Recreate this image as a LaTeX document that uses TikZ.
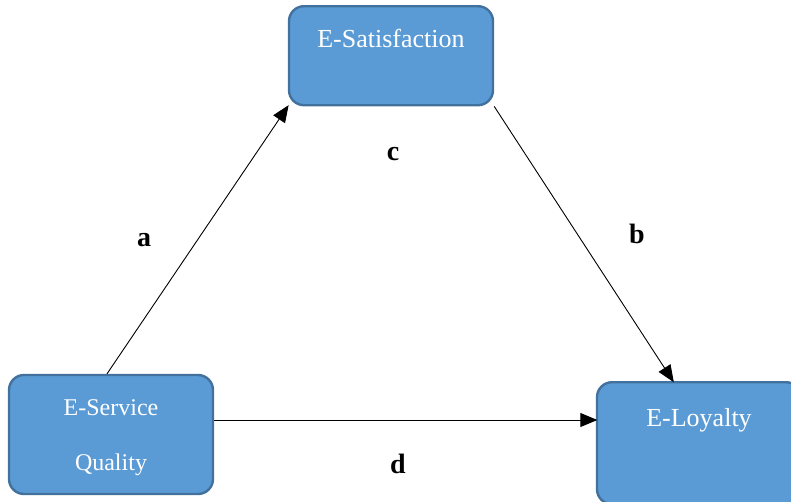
\documentclass[tikz,border=0pt]{standalone}
\usepackage{fontspec}
\setmainfont{Liberation Serif}
\usetikzlibrary{arrows.meta}

\definecolor{boxfill}{HTML}{5B9BD5}
\definecolor{boxline}{HTML}{41719C}

\begin{document}
\begin{tikzpicture}[
    x=1pt, y=-1pt,
    box/.style={draw=boxline, line width=2.4pt, fill=boxfill, rounded corners=15pt,
        text=white, minimum width=204pt, inner xsep=0pt, inner ysep=0pt,
        font=\fontsize{26}{31}\selectfont},
    path/.style={line width=0.9pt, shorten >=-1.5pt, -{Triangle[length=17pt,width=14pt]}},
    lbl/.style={font=\fontsize{28}{32}\selectfont\bfseries, anchor=base}
]

    \clip (0,0) rectangle (791,501);     % Page is the size of the reference

    \node[box, text height=41pt, text depth=58pt] (sat) at (391,5) [anchor=north] {E-Satisfaction};
    \node[box, minimum height=119pt, align=center, font=\fontsize{24}{29}\selectfont]
        (serv) at (111,434.5) {\rule{0pt}{22pt}E-Service\\[26pt]Quality};
    \node[box, text height=44pt, text depth=78pt] (loy) at (699,381) [anchor=north] {E-Loyalty};

    \draw[path] ([xshift=-4pt]serv.north) -- (sat.south west);
    \draw[path] (sat.south east) -- ([xshift=-26pt]loy.north);
    \draw[path] ([yshift=14.5pt]serv.east) -- ([yshift=14.5pt]serv.east -| loy.west);

    \node[lbl] (a) at (144,246) {a};
    \node[lbl] (b) at (637,243) {b};
    \node[lbl] (c) at (393,160) {c};
    \node[lbl] (d) at (398,473) {d};

\end{tikzpicture}
\end{document}
